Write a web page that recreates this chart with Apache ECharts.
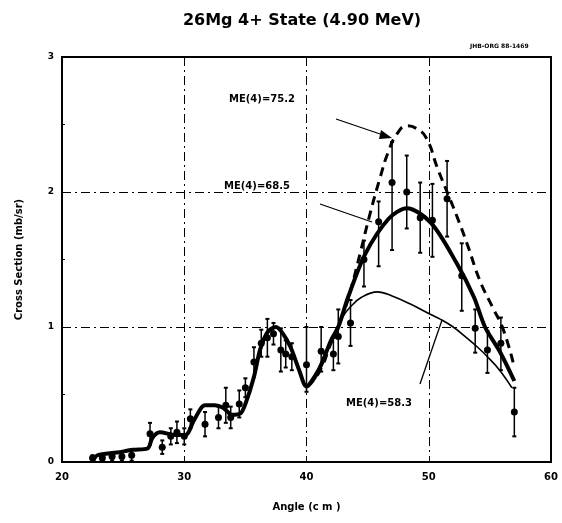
<!DOCTYPE html>
<html>
<head>
<meta charset="utf-8">
<script src="https://cdn.jsdelivr.net/npm/echarts@6/dist/echarts.min.js"></script>
<style>
html,body{margin:0;padding:0;background:#fff;}
#chart{width:562px;height:523px;}
</style>
</head>
<body>
<div id="chart"></div>
<script>
// ---- Data ----
const xTicks = [20, 30, 40, 50, 60];
const yTicks = [0, 1, 2, 3];

// measured points: angle, cross section, lower error, upper error
const angle  = [22.5,23.3,24.1,24.9,25.7,27.2,28.2,28.9,29.4,30.0,30.5,31.7,32.8,33.4,33.8,34.5,35.0,35.7,36.3,36.8,37.3,37.9,38.3,38.8,40.0,41.2,42.2,42.6,43.6,44.7,45.9,47.0,48.2,49.3,50.3,51.5,52.7,53.8,54.8,55.9,57.0];
const xsec   = [0.03,0.03,0.04,0.04,0.05,0.21,0.11,0.19,0.22,0.19,0.32,0.28,0.33,0.42,0.33,0.43,0.55,0.74,0.88,0.92,0.95,0.83,0.80,0.78,0.72,0.82,0.80,0.93,1.03,1.50,1.78,2.07,2.00,1.81,1.79,1.95,1.38,0.99,0.83,0.88,0.37];
const errLo  = [0.02,0.02,0.03,0.03,0.04,0.08,0.05,0.06,0.08,0.06,0.07,0.09,0.08,0.13,0.08,0.10,0.07,0.11,0.10,0.14,0.08,0.16,0.10,0.10,0.20,0.15,0.12,0.20,0.17,0.20,0.33,0.50,0.27,0.26,0.27,0.28,0.26,0.18,0.17,0.20,0.18];
const errHi  = [0.02,0.02,0.03,0.03,0.04,0.08,0.05,0.06,0.08,0.06,0.07,0.09,0.08,0.13,0.08,0.10,0.07,0.11,0.10,0.14,0.08,0.16,0.10,0.10,0.28,0.18,0.12,0.20,0.17,0.14,0.15,0.30,0.27,0.26,0.27,0.28,0.24,0.14,0.14,0.19,0.18];

// fit ME(4)=68.5 (thick solid)
const fit685Angle = [22.5,22.9,24.5,25.8,27.0,27.4,28.0,29.3,30.1,30.8,31.7,32.5,33.2,33.9,34.6,35.0,35.7,36.2,36.8,37.5,38.0,38.7,39.4,40.0,41.0,42.0,42.6,43.4,44.8,46.7,48.2,50.2,52.3,53.7,54.6,55.8,57.0];
const fit685Value = [0.00,0.05,0.07,0.09,0.10,0.18,0.22,0.20,0.20,0.31,0.42,0.42,0.40,0.35,0.36,0.43,0.63,0.83,0.96,1.00,0.96,0.85,0.68,0.56,0.68,0.90,1.00,1.22,1.54,1.80,1.88,1.77,1.47,1.22,1.00,0.82,0.60];

// fit ME(4)=75.2 (dashed)
const fit752Angle = [40.0,41.0,42.0,43.0,43.6,44.4,45.2,46.0,46.7,47.4,48.2,49.0,49.8,50.7,51.5,52.3,53.2,54.2,55.2,56.1,57.0];
const fit752Value = [0.56,0.66,0.88,1.10,1.27,1.55,1.84,2.10,2.30,2.43,2.49,2.47,2.40,2.18,2.00,1.82,1.60,1.34,1.15,0.98,0.70];

// fit ME(4)=58.3 (thin)
const fit583Angle = [40.0,41.0,42.0,43.0,43.6,44.5,45.8,47.0,48.5,50.0,50.9,52.0,53.1,54.0,54.8,55.8,56.8];
const fit583Value = [0.56,0.70,0.90,1.08,1.15,1.22,1.26,1.23,1.17,1.10,1.06,1.00,0.92,0.85,0.78,0.68,0.55];

// ---- Chart ----
const FONT = 'DejaVu Sans';
const zip = (a, b) => a.map((v, i) => [v, b[i]]);
const errData = angle.map((a, i) => [a, xsec[i] - errLo[i], xsec[i] + errHi[i]]);

const chart = echarts.init(document.getElementById('chart'), null, {renderer: 'canvas'});
const dashDot = [9, 4, 2, 4];

chart.setOption({
  backgroundColor: '#fff',
  animation: false,
  title: {
    text: '26Mg 4+ State (4.90 MeV)',
    left: 297, top: 8, textAlign: 'center',
    textStyle: {fontFamily: FONT, fontWeight: 'bold', fontSize: 16, color: '#000'}
  },
  grid: {left: 62, right: 11, top: 57, bottom: 61, show: true, borderColor: '#000', borderWidth: 2, backgroundColor: 'transparent'},
  xAxis: {
    type: 'value', min: 20, max: 60, interval: 10,
    name: 'Angle (c m )', nameLocation: 'middle', nameGap: 40,
    nameTextStyle: {fontFamily: FONT, fontWeight: 'bold', fontSize: 10, color: '#000'},
    axisLine: {show: true, lineStyle: {color: '#000', width: 2}},
    axisTick: {show: true, inside: true, length: 5, lineStyle: {color: '#000'}},
    axisLabel: {color: '#000', fontFamily: FONT, fontWeight: 'bold', fontSize: 10, margin: 10},
    splitLine: {show: true, lineStyle: {color: '#000', width: 1, type: dashDot}}
  },
  yAxis: {
    type: 'value', min: 0, max: 3, interval: 1,
    name: 'Cross Section (mb/sr)', nameLocation: 'middle', nameGap: 38,
    nameTextStyle: {fontFamily: FONT, fontWeight: 'bold', fontSize: 10, color: '#000'},
    axisLine: {show: true, lineStyle: {color: '#000', width: 2}},
    axisTick: {show: true, inside: true, length: 5, lineStyle: {color: '#000'}},
    minorTick: {show: true, splitNumber: 2, length: 3, lineStyle: {color: '#000'}},
    axisLabel: {color: '#000', fontFamily: FONT, fontWeight: 'bold', fontSize: 9, margin: 8},
    splitLine: {show: true, lineStyle: {color: '#000', width: 1, type: dashDot}}
  },
  series: [
    {
      name: 'ME(4)=68.5', type: 'line', data: zip(fit685Angle, fit685Value),
      smooth: 0.3, showSymbol: false, z: 3,
      lineStyle: {color: '#000', width: 4}
    },
    {
      name: 'ME(4)=75.2', type: 'line', data: zip(fit752Angle, fit752Value),
      smooth: 0.5, showSymbol: false, z: 3,
      lineStyle: {color: '#000', width: 3, type: [9, 6]}
    },
    {
      name: 'ME(4)=58.3', type: 'line', data: zip(fit583Angle, fit583Value),
      smooth: 0.4, showSymbol: false, z: 3,
      lineStyle: {color: '#000', width: 1.6}
    },
    {
      name: 'errors', type: 'custom', data: errData, z: 4,
      renderItem: function (params, api) {
        const x = api.value(0);
        const p1 = api.coord([x, api.value(1)]);
        const p2 = api.coord([x, api.value(2)]);
        const st = {stroke: '#000', lineWidth: 1.5};
        return {type: 'group', children: [
          {type: 'line', shape: {x1: p1[0], y1: p1[1], x2: p2[0], y2: p2[1]}, style: st},
          {type: 'line', shape: {x1: p1[0]-2, y1: p1[1], x2: p1[0]+2, y2: p1[1]}, style: {stroke: '#000', lineWidth: 2}},
          {type: 'line', shape: {x1: p2[0]-2, y1: p2[1], x2: p2[0]+2, y2: p2[1]}, style: {stroke: '#000', lineWidth: 2}}
        ]};
      }
    },
    {
      name: 'data', type: 'scatter', data: zip(angle, xsec), z: 5,
      symbol: 'circle', symbolSize: 7,
      itemStyle: {color: '#000', opacity: 1}
    }
  ],
  graphic: [
    {type: 'text', left: 470, top: 43, style: {text: 'JHB-ORG 88-1469', fontFamily: FONT, fontWeight: 'bold', fontSize: 6, fill: '#000'}},
    {type: 'text', left: 229, top: 94, style: {text: 'ME(4)=75.2', fontFamily: FONT, fontWeight: 'bold', fontSize: 10, fill: '#000'}},
    {type: 'text', left: 224, top: 181, style: {text: 'ME(4)=68.5', fontFamily: FONT, fontWeight: 'bold', fontSize: 10, fill: '#000'}},
    {type: 'text', left: 346, top: 398, style: {text: 'ME(4)=58.3', fontFamily: FONT, fontWeight: 'bold', fontSize: 10, fill: '#000'}},
    {type: 'line', shape: {x1: 336, y1: 119, x2: 386, y2: 136}, style: {stroke: '#000', lineWidth: 1.3}},
    {type: 'polygon', shape: {points: [[392, 138], [381, 130], [379, 139]]}, style: {fill: '#000'}},
    {type: 'line', shape: {x1: 320, y1: 204, x2: 372, y2: 222}, style: {stroke: '#000', lineWidth: 1.3}},
    {type: 'line', shape: {x1: 420, y1: 384, x2: 442, y2: 320}, style: {stroke: '#000', lineWidth: 1.3}}
  ]
});
</script>
</body>
</html>
